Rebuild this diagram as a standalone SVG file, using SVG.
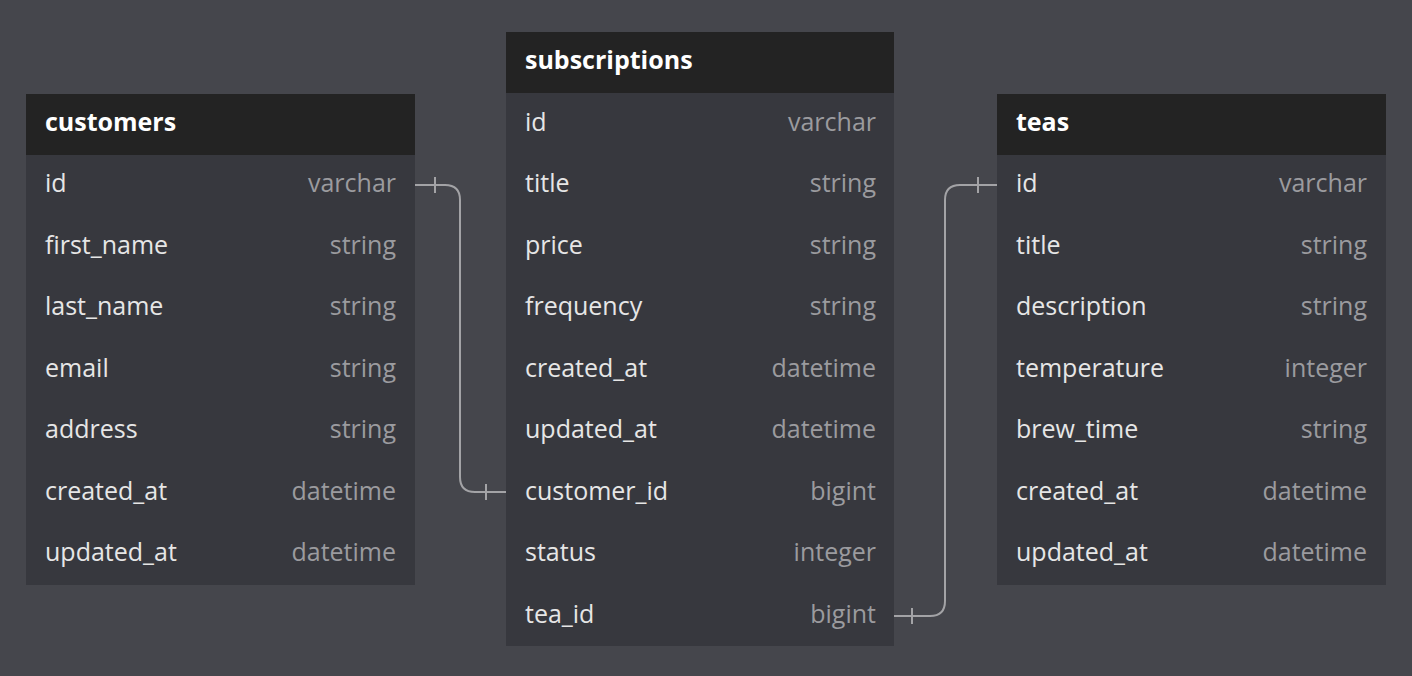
<svg xmlns="http://www.w3.org/2000/svg" width="1412" height="676" viewBox="0 0 1412 676">
<style>
.bg{fill:#45464c}
.body{fill:#37383e}
.head{fill:#232323}
.ht{font-family:"Open Sans",sans-serif;font-weight:bold;font-size:25px;fill:#ffffff}
.n{font-family:"Open Sans",sans-serif;font-size:25px;fill:#e6e6e6}
.t{font-family:"Open Sans",sans-serif;font-size:25px;fill:#9b9b9f;text-anchor:end}
.c{fill:none;stroke:#a3a3a6;stroke-width:2}
</style>
<rect class="bg" width="1412" height="676"/>
<g id="customers">
<rect class="body" x="26" y="94" width="389" height="491"/>
<rect class="head" x="26" y="94" width="389" height="61"/>
<text class="ht" x="45" y="131">customers</text>
<text class="n" x="45" y="192">id</text><text class="t" x="396" y="192">varchar</text>
<text class="n" x="45" y="254">first_name</text><text class="t" x="396" y="254">string</text>
<text class="n" x="45" y="315">last_name</text><text class="t" x="396" y="315">string</text>
<text class="n" x="45" y="377">email</text><text class="t" x="396" y="377">string</text>
<text class="n" x="45" y="438">address</text><text class="t" x="396" y="438">string</text>
<text class="n" x="45" y="500">created_at</text><text class="t" x="396" y="500">datetime</text>
<text class="n" x="45" y="561">updated_at</text><text class="t" x="396" y="561">datetime</text>
</g>
<g id="subscriptions">
<rect class="body" x="506" y="32" width="388" height="614"/>
<rect class="head" x="506" y="32" width="388" height="61"/>
<text class="ht" x="525" y="69">subscriptions</text>
<text class="n" x="525" y="131">id</text><text class="t" x="876" y="131">varchar</text>
<text class="n" x="525" y="192">title</text><text class="t" x="876" y="192">string</text>
<text class="n" x="525" y="254">price</text><text class="t" x="876" y="254">string</text>
<text class="n" x="525" y="315">frequency</text><text class="t" x="876" y="315">string</text>
<text class="n" x="525" y="377">created_at</text><text class="t" x="876" y="377">datetime</text>
<text class="n" x="525" y="438">updated_at</text><text class="t" x="876" y="438">datetime</text>
<text class="n" x="525" y="500">customer_id</text><text class="t" x="876" y="500">bigint</text>
<text class="n" x="525" y="561">status</text><text class="t" x="876" y="561">integer</text>
<text class="n" x="525" y="623">tea_id</text><text class="t" x="876" y="623">bigint</text>
</g>
<g id="teas">
<rect class="body" x="997" y="94" width="389" height="491"/>
<rect class="head" x="997" y="94" width="389" height="61"/>
<text class="ht" x="1016" y="131">teas</text>
<text class="n" x="1016" y="192">id</text><text class="t" x="1367" y="192">varchar</text>
<text class="n" x="1016" y="254">title</text><text class="t" x="1367" y="254">string</text>
<text class="n" x="1016" y="315">description</text><text class="t" x="1367" y="315">string</text>
<text class="n" x="1016" y="377">temperature</text><text class="t" x="1367" y="377">integer</text>
<text class="n" x="1016" y="438">brew_time</text><text class="t" x="1367" y="438">string</text>
<text class="n" x="1016" y="500">created_at</text><text class="t" x="1367" y="500">datetime</text>
<text class="n" x="1016" y="561">updated_at</text><text class="t" x="1367" y="561">datetime</text>
</g>
<g id="connectors">
<path class="c" d="M415 185 H445 Q460 185 460 200 V477 Q460 492 475 492 H506"/>
<path class="c" d="M435 177 V193 M486 484 V500"/>
<path class="c" d="M894 616 H930 Q945 616 945 601 V200 Q945 185 960 185 H997"/>
<path class="c" d="M912 608 V624 M978 177 V193"/>
</g>
</svg>
